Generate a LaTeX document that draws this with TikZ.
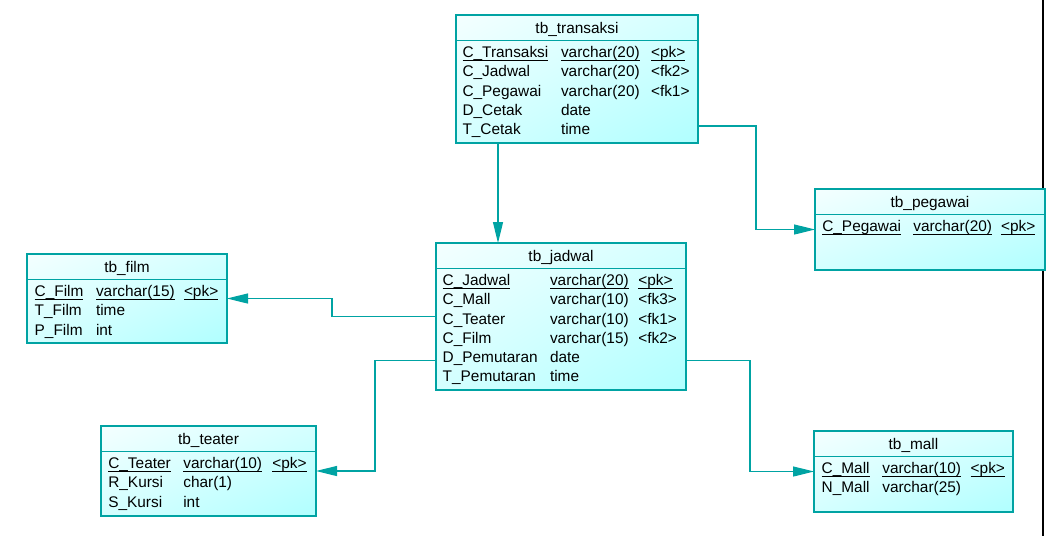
\documentclass[tikz,border=0pt]{standalone}
\usepackage{fontspec}
\setmainfont{Liberation Sans}
\usetikzlibrary{arrows.meta,shadings}
\definecolor{teal1}{HTML}{00A3A3}
\definecolor{cyanlo}{HTML}{B0FFFF}
\definecolor{cyanhi}{HTML}{F4FFFF}
\definecolor{cyanmid}{HTML}{D4FFFF}
\newcommand\tbl[6]{%
  \node[tblbox, minimum width=#4pt, minimum height=#5pt] (#1) at (#2,#3) {};
  \draw[sepline] ([yshift=-25.5pt]#1.north west) -- ([yshift=-25.5pt]#1.north east);
  \node[title] (#1-t) at ([yshift=-18.3pt]#1.north) {#6};
}
\newcommand\ulc[1]{\draw[ulline] ([yshift=-2.8pt]#1.base west) -- ([yshift=-2.8pt]#1.base east);}
\begin{document}
\begin{tikzpicture}[x=1pt,y=-1pt,
  tblbox/.style={draw=teal1, line width=1.2pt, anchor=north west, inner sep=0pt, outer sep=0pt,
    shading=bilinear interpolation, upper left=cyanhi, upper right=cyanmid, lower left=cyanmid, lower right=cyanlo},
  sepline/.style={draw=teal1, line width=1.2pt},
  cell/.style={anchor=base west, inner sep=0pt, outer sep=0pt, font=\fontsize{15.4}{18}\selectfont, text=black},
  title/.style={cell, anchor=base},
  ulline/.style={line width=1pt, black},
  conn/.style={draw=teal1, line width=1.2pt, -{Triangle[length=21pt,width=10pt]}},
]
\useasboundingbox (0,0) rectangle (1057,536);
\fill[white] (0,0) rectangle (1057,536);
\draw[line width=1.3pt, black] (1043,0) -- (1043,536);

% tb_transaksi
\tbl{trans}{456}{15}{242}{128}{tb\_transaksi}
\node[cell] (tr1a) at (462.5,57.7) {C\_Transaksi}; \ulc{tr1a}
\node[cell] (tr1b) at (561,57.7) {varchar(20)}; \ulc{tr1b}
\node[cell] (tr1c) at (651,57.7) {<pk>}; \ulc{tr1c}
\node[cell] (tr2a) at (462.5,76.9) {C\_Jadwal};
\node[cell] (tr2b) at (561,76.9) {varchar(20)};
\node[cell] (tr2c) at (651,76.9) {<fk2>};
\node[cell] (tr3a) at (462.5,96.1) {C\_Pegawai};
\node[cell] (tr3b) at (561,96.1) {varchar(20)};
\node[cell] (tr3c) at (651,96.1) {<fk1>};
\node[cell] (tr4a) at (462.5,115.3) {D\_Cetak};
\node[cell] (tr4b) at (561,115.3) {date};
\node[cell] (tr5a) at (462.5,134.5) {T\_Cetak};
\node[cell] (tr5b) at (561,134.5) {time};

% tb_jadwal
\tbl{jad}{436}{243}{250}{147}{tb\_jadwal}
\node[cell] (j1a) at (442.7,285.7) {C\_Jadwal}; \ulc{j1a}
\node[cell] (j1b) at (550,285.7) {varchar(20)}; \ulc{j1b}
\node[cell] (j1c) at (638.3,285.7) {<pk>}; \ulc{j1c}
\node[cell] (j2a) at (442.7,304.9) {C\_Mall};
\node[cell] (j2b) at (550,304.9) {varchar(10)};
\node[cell] (j2c) at (638.3,304.9) {<fk3>};
\node[cell] (j3a) at (442.7,324.1) {C\_Teater};
\node[cell] (j3b) at (550,324.1) {varchar(10)};
\node[cell] (j3c) at (638.3,324.1) {<fk1>};
\node[cell] (j4a) at (442.7,343.3) {C\_Film};
\node[cell] (j4b) at (550,343.3) {varchar(15)};
\node[cell] (j4c) at (638.3,343.3) {<fk2>};
\node[cell] (j5a) at (442.7,362.5) {D\_Pemutaran};
\node[cell] (j5b) at (550,362.5) {date};
\node[cell] (j6a) at (442.7,381.7) {T\_Pemutaran};
\node[cell] (j6b) at (550,381.7) {time};

% tb_pegawai
\tbl{peg}{815}{189}{230}{81}{tb\_pegawai}
\node[cell] (p1a) at (822.3,231.7) {C\_Pegawai}; \ulc{p1a}
\node[cell] (p1b) at (913.3,231.7) {varchar(20)}; \ulc{p1b}
\node[cell] (p1c) at (1001,231.7) {<pk>}; \ulc{p1c}

% tb_film
\tbl{film}{27}{254}{200}{89}{tb\_film}
\node[cell] (f1a) at (34.7,296.7) {C\_Film}; \ulc{f1a}
\node[cell] (f1b) at (96,296.7) {varchar(15)}; \ulc{f1b}
\node[cell] (f1c) at (184,296.7) {<pk>}; \ulc{f1c}
\node[cell] (f2a) at (34.7,315.9) {T\_Film};
\node[cell] (f2b) at (96,315.9) {time};
\node[cell] (f3a) at (34.7,335.1) {P\_Film};
\node[cell] (f3b) at (96,335.1) {int};

% tb_teater
\tbl{teat}{101}{426}{215}{90}{tb\_teater}
\node[cell] (te1a) at (108.3,468.7) {C\_Teater}; \ulc{te1a}
\node[cell] (te1b) at (183.3,468.7) {varchar(10)}; \ulc{te1b}
\node[cell] (te1c) at (272.3,468.7) {<pk>}; \ulc{te1c}
\node[cell] (te2a) at (108.3,487.9) {R\_Kursi};
\node[cell] (te2b) at (183.3,487.9) {char(1)};
\node[cell] (te3a) at (108.3,507.1) {S\_Kursi};
\node[cell] (te3b) at (183.3,507.1) {int};

% tb_mall
\tbl{mall}{814}{431}{199}{81}{tb\_mall}
\node[cell] (m1a) at (821.7,473.7) {C\_Mall}; \ulc{m1a}
\node[cell] (m1b) at (882.3,473.7) {varchar(10)}; \ulc{m1b}
\node[cell] (m1c) at (970.7,473.7) {<pk>}; \ulc{m1c}
\node[cell] (m2a) at (821.7,492.9) {N\_Mall};
\node[cell] (m2b) at (882.3,492.9) {varchar(25)};

% connectors
\draw[conn] ([xshift=42pt]trans.south west) -- ([xshift=62pt]jad.north west);
\draw[conn] ([yshift=-47pt]trans.east) -- ++(58,0) |- (peg.west);
\draw[conn] (jad.west) -- ++(-104,0) |- (film.east);
\draw[conn] ([yshift=-44pt]jad.west) -- ++(-61,0) |- (teat.east);
\draw[conn] ([yshift=-44pt]jad.east) -- ++(64,0) |- (mall.west);
\end{tikzpicture}
\end{document}
